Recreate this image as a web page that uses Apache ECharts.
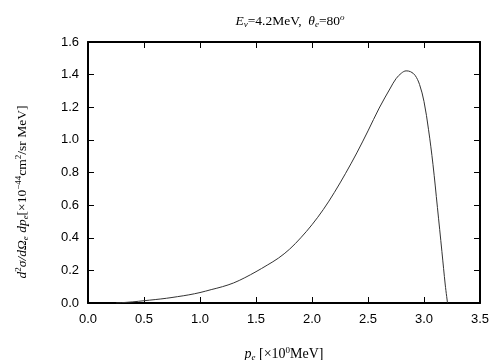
<!DOCTYPE html>
<html><head><meta charset="utf-8">
<script src="https://cdn.jsdelivr.net/npm/echarts@6/dist/echarts.min.js"></script>
<style>html,body{margin:0;padding:0;background:#fff}#c{width:504px;height:360px}</style>
</head><body><div id="c"></div>
<script>
var pe = [0.25,0.3,0.4,0.5,0.6,0.7,0.8,0.9,1.0,1.1,1.2,1.3,1.4,1.5,1.6,1.7,1.8,1.9,2.0,2.1,2.2,2.3,2.4,2.5,2.6,2.7,2.75,2.8,2.84,2.88,2.92,2.96,3.0,3.04,3.08,3.12,3.16,3.19,3.21];
var sigma = [0,0.002,0.007,0.014,0.021,0.029,0.039,0.050,0.064,0.082,0.100,0.123,0.155,0.192,0.232,0.275,0.330,0.400,0.480,0.572,0.678,0.795,0.920,1.055,1.195,1.318,1.375,1.410,1.423,1.418,1.396,1.340,1.235,1.065,0.850,0.585,0.315,0.110,0.0];
var xTicks = [0,3.5,0.5];
var yTicks = [0,1.6,0.2];
var data = pe.map(function(p,i){return [p,sigma[i]];});
var chart = echarts.init(document.getElementById('c'));
var serif = '"Liberation Serif","DejaVu Serif",serif';
var sans = '"Liberation Sans",Arial,sans-serif';
function rich(sz){
  var sm = Math.round(sz*0.65);
  return {
    i:{fontFamily:serif,fontStyle:'italic',fontWeight:'normal',fontSize:sz,color:'#000'},
    n:{fontFamily:serif,fontWeight:'normal',fontSize:sz,color:'#000'},
    s:{fontFamily:serif,fontStyle:'italic',fontWeight:'normal',fontSize:sm,color:'#000',verticalAlign:'bottom',padding:[7,0,0,0]},
    u:{fontFamily:serif,fontWeight:'normal',fontSize:sm,color:'#000',verticalAlign:'top',padding:[0,0,7,0]},
    ui:{fontFamily:serif,fontStyle:'italic',fontWeight:'normal',fontSize:sm,color:'#000',verticalAlign:'top',padding:[0,0,7,0]}
  };
}
var axisLine = {show:true,onZero:false,lineStyle:{color:'#000',width:2}};
var tick = {inside:true,length:6,lineStyle:{color:'#000',width:1}};
chart.setOption({
  animation:false,
  backgroundColor:'#fff',
  title:{
    text:'{i|E}{s|ν}{n|=4.2MeV,  }{i|θ}{s|e}{n|=80}{ui|o}',
    left:285, top:8, textAlign:'center',
    textStyle:{fontWeight:'normal',rich:rich(13.5)}
  },
  grid:{left:88,right:24,top:42,bottom:57,show:false,containLabel:false,outerBoundsMode:'none'},
  graphic:[{
    type:'text', x:22, y:192, rotation:Math.PI/2,
    style:{
      text:'{i|d}{u|2}{i|σ/dΩ}{s|e}{i| dp}{s|e}{n|[×10}{u|−44}{n|cm}{u|2}{n|/sr MeV]}',
      rich:rich(13.5), align:'center', verticalAlign:'middle'
    }
  }],
  xAxis:[{
    type:'value',min:xTicks[0],max:xTicks[1],interval:xTicks[2],
    axisLine:axisLine, axisTick:tick,
    axisLabel:{margin:10,fontFamily:sans,fontSize:13,color:'#000',formatter:function(v){return v.toFixed(1);}},
    splitLine:{show:false},
    name:'{i|p}{s|e}{n| [×10}{u|0}{n|MeV]}',
    nameLocation:'middle',nameGap:43,
    nameTextStyle:{rich:rich(14)}
  },{
    type:'value',position:'top',min:xTicks[0],max:xTicks[1],interval:xTicks[2],
    axisLine:axisLine,axisTick:tick,
    axisLabel:{show:false},splitLine:{show:false}
  }],
  yAxis:[{
    type:'value',min:yTicks[0],max:yTicks[1],interval:yTicks[2],
    axisLine:axisLine, axisTick:tick,
    axisLabel:{margin:9,fontFamily:sans,fontSize:13,color:'#000',formatter:function(v){return v.toFixed(1);}},
    splitLine:{show:false}
  },{
    type:'value',position:'right',min:yTicks[0],max:yTicks[1],interval:yTicks[2],
    axisLine:axisLine,axisTick:tick,
    axisLabel:{show:false},splitLine:{show:false}
  }],
  series:[{
    type:'line',data:data,xAxisIndex:0,yAxisIndex:0,
    smooth:0.35,showSymbol:false,symbol:'none',
    lineStyle:{color:'#333',width:1}
  },{
    type:'line',data:[],xAxisIndex:1,yAxisIndex:1,showSymbol:false,symbol:'none'
  }]
});
</script></body></html>
